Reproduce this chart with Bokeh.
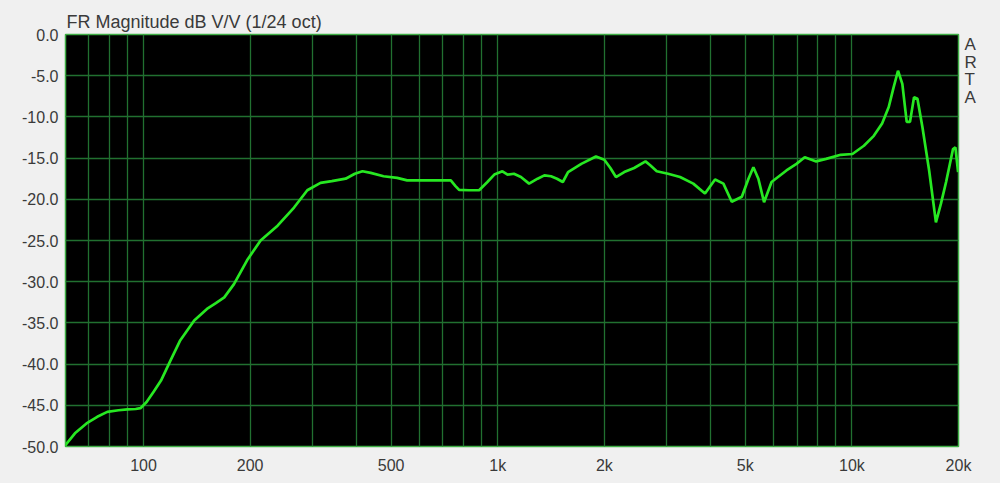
from bokeh.plotting import figure
from bokeh.models import Range1d, FixedTicker, PrintfTickFormatter, LinearAxis
from bokeh.embed import file_html
from bokeh.resources import INLINE

# ---- data ----
freq_hz = [60, 64, 69, 74, 79, 85, 90, 95, 98, 102, 107, 112, 119, 127, 139, 151,
           160, 169, 180, 196, 214, 239, 266, 290, 316, 340, 372, 395, 415, 438,
           476, 520, 555, 606, 680, 737, 760, 778, 830, 886, 935, 978, 1031, 1066,
           1111, 1163, 1226, 1296, 1354, 1414, 1470, 1527, 1580, 1722, 1894, 2000,
           2080, 2157, 2276, 2428, 2614, 2700, 2812, 3026, 3272, 3566, 3848, 4108,
           4337, 4579, 4890, 5105, 5271, 5444, 5649, 5932, 6535, 6975, 7360, 7929,
           8456, 9299, 10036, 10813, 11532, 12170, 12707, 13100, 13496, 13881,
           14282, 14590, 14980, 15315, 15820, 16525, 17270, 17850, 18450, 19300,
           19600, 19950]
magnitude_db = [-49.9, -48.4, -47.2, -46.4, -45.8, -45.6, -45.5, -45.45, -45.35,
                -44.6, -43.3, -42.0, -39.6, -37.1, -34.7, -33.3, -32.6, -31.9,
                -30.3, -27.4, -25.0, -23.2, -21.0, -18.9, -18.0, -17.8, -17.5,
                -16.9, -16.6, -16.8, -17.2, -17.4, -17.7, -17.7, -17.7, -17.7,
                -18.4, -18.85, -18.9, -18.9, -17.9, -17.0, -16.6, -17.0, -16.9,
                -17.3, -18.1, -17.5, -17.1, -17.2, -17.5, -17.9, -16.7, -15.7,
                -14.8, -15.2, -16.2, -17.3, -16.7, -16.2, -15.4, -15.9, -16.6,
                -16.9, -17.3, -18.1, -19.3, -17.6, -18.1, -20.3, -19.7, -17.5,
                -16.1, -17.5, -20.35, -17.9, -16.5, -15.7, -14.9, -15.4, -15.1,
                -14.6, -14.5, -13.5, -12.3, -10.8, -8.8, -6.5, -4.4, -6.0, -10.6,
                -10.6, -7.6, -7.8, -11.25, -16.5, -22.8, -20.5, -17.9, -13.9,
                -13.7, -16.7]

x_tick_values = [100, 200, 500, 1000, 2000, 5000, 10000, 20000]
x_tick_labels = ["100", "200", "500", "1k", "2k", "5k", "10k", "20k"]
x_grid_values = [70, 80, 90, 100, 200, 300, 400, 500, 600, 700, 800, 900,
                 1000, 2000, 3000, 4000, 5000, 6000, 7000, 8000, 9000,
                 10000, 20000]
y_tick_values = [-50, -45, -40, -35, -30, -25, -20, -15, -10, -5, 0]

title_text = "FR Magnitude dB V/V (1/24 oct)"
side_letters = ["A", "R", "T", "A"]
side_letter_rows = [-1.2, -3.35, -5.45, -7.6]

BG = "#f0f0f0"
TXT = "#3a3a3a"
GRID = "#217030"
OUTLINE = "#3fae45"
CURVE = "#27e822"
FONT = "Liberation Sans"

p = figure(
    width=1000, height=483,
    min_border_left=65, min_border_right=42, min_border_top=34, min_border_bottom=37,
    x_axis_type="log",
    x_range=Range1d(60.2, 20000), y_range=Range1d(-50, 0),
    output_backend="svg", toolbar_location=None,
    background_fill_color="black", border_fill_color=BG,
)
p.outline_line_color = OUTLINE
p.outline_line_width = 1.5

p.title.text = title_text
p.title.align = "left"
p.title.text_font = FONT
p.title.text_font_size = "18px"
p.title.text_font_style = "normal"
p.title.text_color = TXT
p.title.standoff = 6
p.title.offset = 1

p.line(freq_hz, magnitude_db, line_color=CURVE, line_width=2.7)

# side letters as a right-hand axis
ra = LinearAxis(ticker=FixedTicker(ticks=side_letter_rows))
ra.major_label_overrides = {v: t for v, t in zip(side_letter_rows, side_letters)}
p.add_layout(ra, "right")

# axes
xa = p.xaxis[0]
xa.ticker = FixedTicker(ticks=x_tick_values)
xa.major_label_overrides = {v: l for v, l in zip(x_tick_values, x_tick_labels)}
ya = p.yaxis[0]
ya.ticker = FixedTicker(ticks=y_tick_values)
ya.formatter = PrintfTickFormatter(format="%.1f")
for ax, so, fs in ((xa, 10, "16px"), (ya, 7, "16px"), (ra, 6, "17px")):
    ax.axis_line_color = None
    ax.major_tick_line_color = None
    ax.minor_tick_line_color = None
    ax.major_tick_out = 0
    ax.major_tick_in = 0
    ax.minor_tick_out = 0
    ax.major_label_text_font = FONT
    ax.major_label_text_font_size = fs
    ax.major_label_text_color = TXT
    ax.major_label_standoff = so

# grids
p.xgrid[0].ticker = FixedTicker(ticks=x_grid_values)
p.ygrid[0].ticker = FixedTicker(ticks=y_tick_values)
for g in (p.xgrid[0], p.ygrid[0]):
    g.grid_line_color = GRID
    g.grid_line_width = 1.3

html = file_html(p, INLINE)
html = html.replace("</head>", "<style>html, body { background: %s; }</style></head>" % BG, 1)
open("out.html", "w").write(html)
